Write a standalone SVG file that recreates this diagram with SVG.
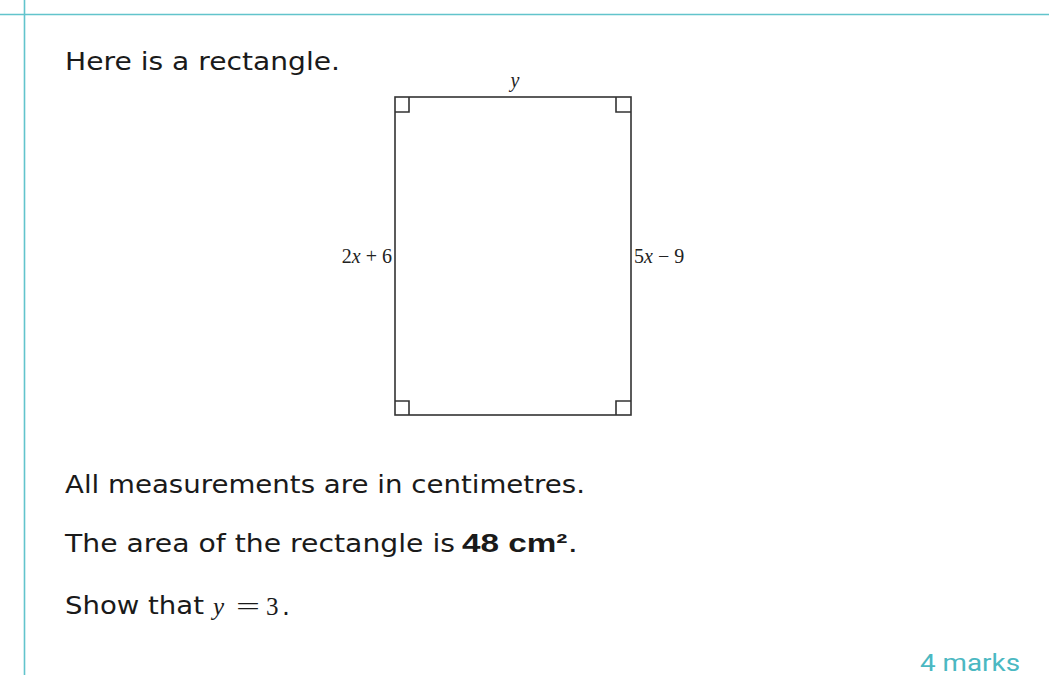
<svg xmlns="http://www.w3.org/2000/svg" width="1049" height="675" viewBox="0 0 1049 675">
<style>
.rule{stroke:#62c4cc;stroke-width:1.6;fill:none}
.body{font-family:"DejaVu Sans","Liberation Sans",sans-serif;font-size:25px;fill:#1a1a1a}
.bold{font-family:"Liberation Sans",Arial,sans-serif;font-weight:bold}
.math{font-family:"Liberation Serif","Times New Roman",serif;font-size:20px;fill:#222}
.mathbig{font-family:"Liberation Serif","Times New Roman",serif;font-size:25px;fill:#1a1a1a}
.shape{stroke:#333;stroke-width:1.6;fill:none}
.marks{font-family:"Roboto","Liberation Sans",sans-serif;font-size:24px;fill:#4bb8c2}
</style>
<rect width="1049" height="675" fill="#ffffff"/>
<g id="rules">
<line class="rule" x1="0" y1="14.5" x2="1049" y2="14.5"/>
<line class="rule" x1="24.5" y1="0" x2="24.5" y2="675"/>
</g>
<g id="rectangle">
<rect class="shape" x="395" y="97" width="236" height="318"/>
<path class="shape" d="M395 112 H409 V97 M616 97 V112 H631 M395 401 H409 V415 M616 415 V401 H631"/>
</g>
<g id="labels">
<text class="math" x="515" y="87" text-anchor="middle" font-style="italic">y</text>
<text class="math" x="392" y="263" text-anchor="end">2<tspan font-style="italic">x</tspan> + 6</text>
<text class="math" x="634" y="263">5<tspan font-style="italic">x</tspan> − 9</text>
</g>
<g id="texts">
<text class="body" x="65" y="70" textLength="275" lengthAdjust="spacingAndGlyphs">Here is a rectangle.</text>
<text class="body" x="65" y="493" textLength="520" lengthAdjust="spacingAndGlyphs">All measurements are in centimetres.</text>
<text class="body" x="65" y="552" textLength="390" lengthAdjust="spacingAndGlyphs">The area of the rectangle is</text>
<text class="body bold" x="462" y="552" textLength="116" lengthAdjust="spacingAndGlyphs">48 cm²<tspan font-weight="normal" font-family="DejaVu Sans,sans-serif">.</tspan></text>
<text class="body" x="65" y="614" textLength="139" lengthAdjust="spacingAndGlyphs">Show that</text>
<text class="mathbig" x="213" y="615" font-style="italic" font-size="29">y</text>
<text class="mathbig" x="236" y="615" textLength="24" lengthAdjust="spacingAndGlyphs">=</text>
<text class="mathbig" x="266" y="615" font-size="25">3</text>
<text class="body" x="282" y="615">.</text>
<text class="marks" x="920" y="671" textLength="100" lengthAdjust="spacingAndGlyphs">4 marks</text>
</g>
</svg>
